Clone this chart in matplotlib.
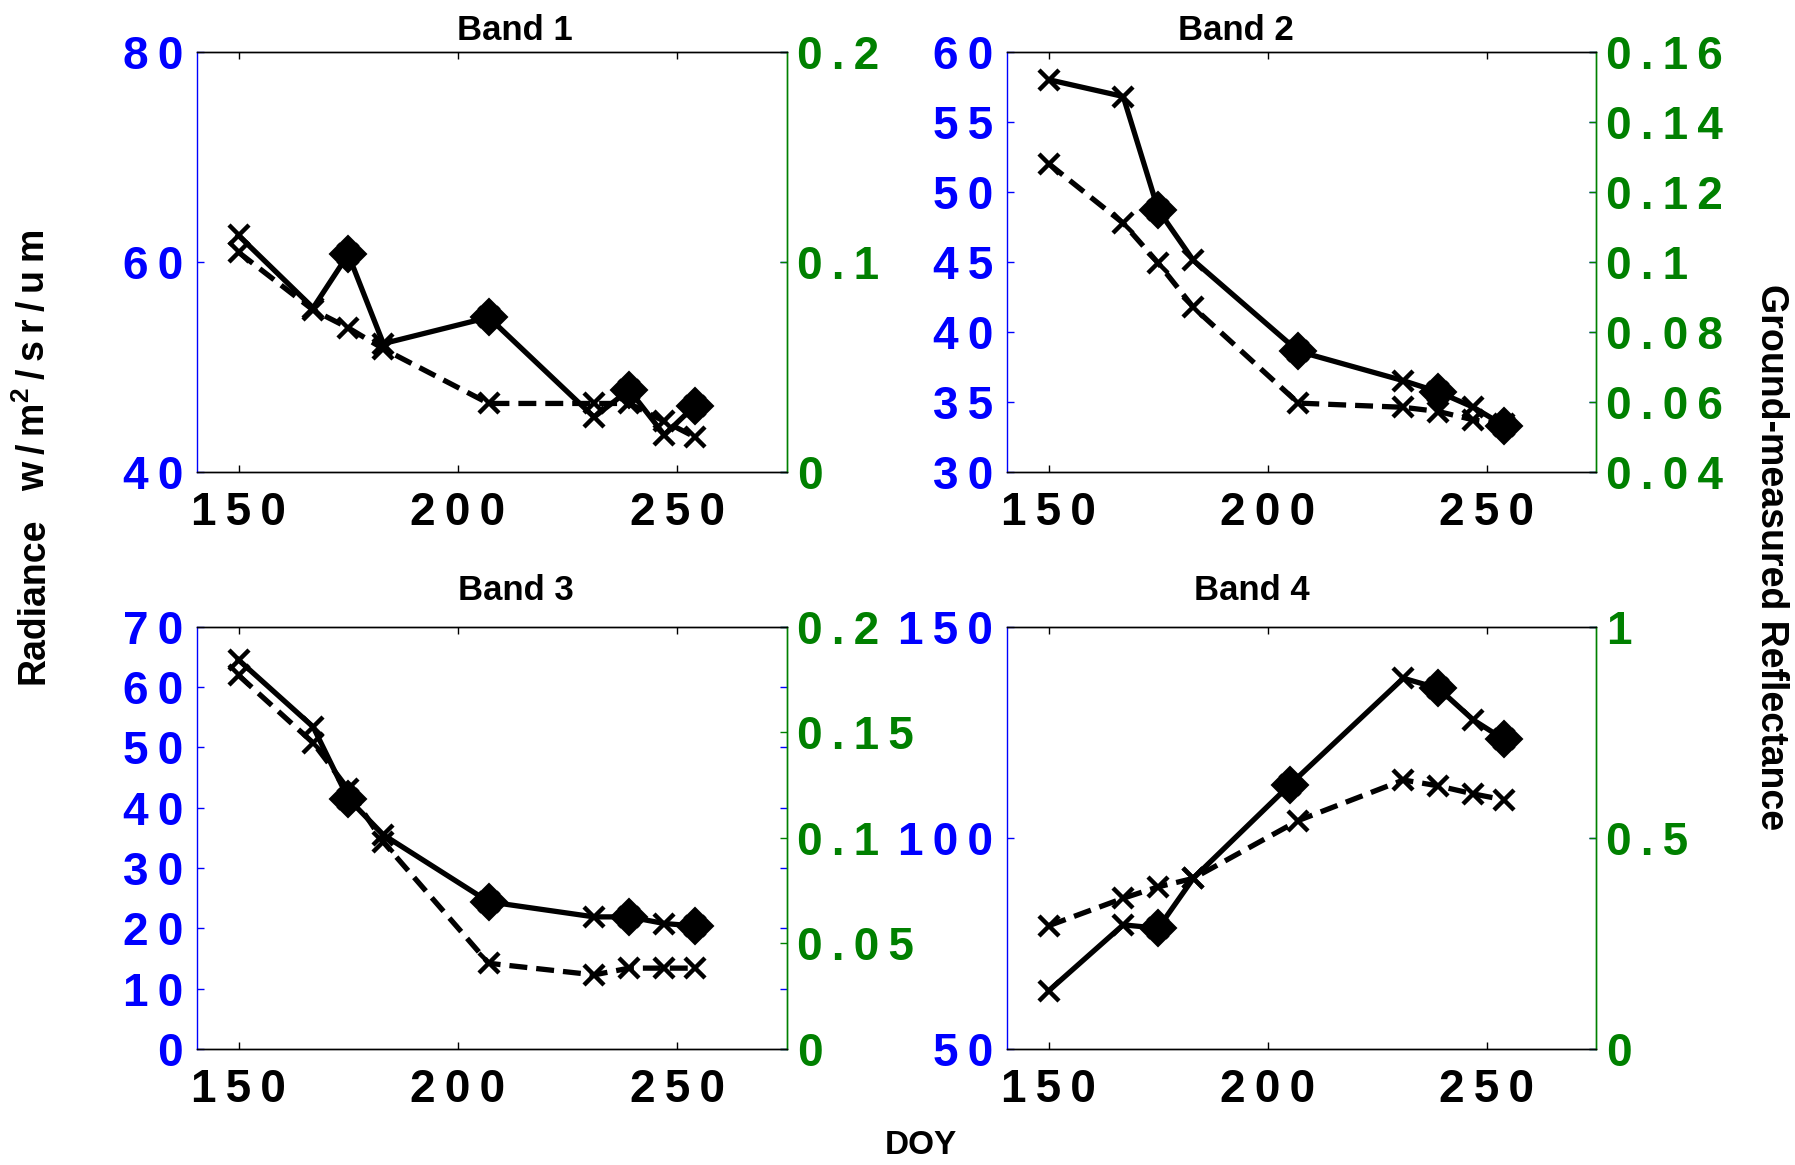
import matplotlib
matplotlib.use('Agg')
import matplotlib.pyplot as plt
from matplotlib.ticker import FuncFormatter

plt.rcParams['font.family'] = ['Liberation Sans', 'DejaVu Sans']
plt.rcParams['font.weight'] = 'bold'
plt.rcParams['mathtext.fontset'] = 'custom'
plt.rcParams['mathtext.rm'] = 'Liberation Sans:bold'
plt.rcParams['mathtext.bf'] = 'Liberation Sans:bold'
plt.rcParams['mathtext.default'] = 'rm'

# day of year of the acquisitions
doy = [150, 167, 175, 183, 207, 231, 239, 247, 254]
doy_b4_sat = [150, 167, 175, 183, 205, 231, 239, 247, 254]
diamond_idx = [2, 4, 6, 8]

# satellite radiance (left axis), solid line
rad_b1 = [62.5, 55.6, 60.7, 52.2, 54.7, 45.2, 47.8, 43.5, 46.3]
rad_b2 = [58.0, 56.8, 48.7, 45.1, 38.6, 36.5, 35.7, 34.6, 33.3]
rad_b3 = [64.5, 53.4, 41.5, 35.5, 24.4, 21.9, 21.9, 20.8, 20.4]
rad_b4 = [63.8, 79.4, 78.6, 90.4, 112.5, 137.8, 135.4, 127.9, 123.3]

# ground measured reflectance (right axis), dashed line
ref_b1 = [0.1045, 0.077, 0.0685, 0.0585, 0.0325, 0.0325, 0.0325, 0.024, 0.0165]
ref_b2 = [0.128, 0.111, 0.0996, 0.087, 0.0596, 0.0584, 0.0572, 0.0548, 0.0536]
ref_b3 = [0.177, 0.145, 0.123, 0.098, 0.0406, 0.0351, 0.0383, 0.0383, 0.0383]
ref_b4 = [0.292, 0.357, 0.384, 0.404, 0.541, 0.637, 0.623, 0.604, 0.590]

titles = ['Band 1', 'Band 2', 'Band 3', 'Band 4']
left_ticks = [[40, 60, 80], [30, 35, 40, 45, 50, 55, 60],
              [0, 10, 20, 30, 40, 50, 60, 70], [50, 100, 150]]
right_ticks = [[0, 0.1, 0.2], [0.04, 0.06, 0.08, 0.1, 0.12, 0.14, 0.16],
               [0, 0.05, 0.1, 0.15, 0.2], [0, 0.5, 1]]
x_ticks = [150, 200, 250]

rads = [rad_b1, rad_b2, rad_b3, rad_b4]
refs = [ref_b1, ref_b2, ref_b3, ref_b4]
sat_doys = [doy, doy, doy, doy_b4_sat]

W, H = 1795, 1165
rects = [[196.8, 51.7, 590.4, 420.0], [1007.2, 51.7, 588.8, 420.0],
         [196.8, 626.7, 590.4, 422.3], [1007.2, 626.7, 588.8, 422.3]]
title_x = [0.539, 0.389, 0.541, 0.416]
title_pad = [8.4, 8.4, 19.4, 19.4]

BLUE = '#0000ff'
GREEN = '#008000'
TS = 33


def spaced(v, pos):
    return '\u2009'.join(f'{v:g}')


fig = plt.figure(figsize=(W / 100, H / 100), dpi=100)

for i in range(4):
    l, t, w, h = rects[i]
    ax = fig.add_axes([l / W, 1 - (t + h) / H, w / W, h / H])
    ax2 = ax.twinx()

    sx = sat_doys[i]
    ax.plot(sx, rads[i], '-', color='k', lw=3.8, marker='x', ms=15, mew=3.2)
    ax.plot([sx[j] for j in diamond_idx], [rads[i][j] for j in diamond_idx],
            'D', color='k', ms=18, mew=1.5)
    ax2.plot(doy, refs[i], color='k', lw=3.8, ls=(0, (3.4, 1.7)),
             marker='x', ms=15, mew=3.2)

    ax.set_xlim(140.5, 275)
    ax.set_xticks(x_ticks)
    lt = left_ticks[i]
    rt = right_ticks[i]
    ax.set_ylim(lt[0], lt[-1])
    ax.set_yticks(lt)
    ax2.set_ylim(rt[0], rt[-1])
    ax2.set_yticks(rt)
    ax.xaxis.set_major_formatter(FuncFormatter(spaced))
    ax.yaxis.set_major_formatter(FuncFormatter(spaced))
    ax2.yaxis.set_major_formatter(FuncFormatter(spaced))

    ax.tick_params(axis='x', direction='in', top=True, length=5, width=1,
                   labelsize=TS, pad=14, colors='k')
    ax.tick_params(axis='y', direction='in', right=True, length=5, width=1,
                   labelsize=TS, pad=10, colors=BLUE)
    ax2.tick_params(axis='y', direction='in', length=5, width=1,
                    labelsize=TS, pad=7, colors=GREEN)

    for a in (ax, ax2):
        for s in a.spines.values():
            s.set_linewidth(1)
    ax.spines['left'].set_color(BLUE)
    ax.spines['right'].set_color(GREEN)
    ax2.spines['right'].set_color(GREEN)
    ax2.spines['left'].set_visible(False)

    ax.set_title(titles[i], x=title_x[i], pad=title_pad[i], fontsize=25,
                 fontweight='bold')

fig.text(34 / W, 1 - 601 / H, 'Radiance', rotation=90, ha='center', va='center',
         fontsize=27, fontweight='bold',
         family=['Liberation Sans Narrow', 'Liberation Sans'])
fig.text(34 / W, 1 - 360 / H,
         'w\u2009/\u2009m$^{2}$\u2009/\u2009s\u2009r\u2009/\u2009u\u2009m',
         rotation=90, ha='center', va='center', fontsize=27)
fig.text(1771 / W, 1 - 557 / H, 'Ground-measured Reflectance', rotation=-90,
         ha='center', va='center', fontsize=27, fontweight='bold')
fig.text(921 / W, 1 - 1145 / H, 'DOY', ha='center', va='center',
         fontsize=24, fontweight='bold')

fig.savefig('out.png', dpi=100)
